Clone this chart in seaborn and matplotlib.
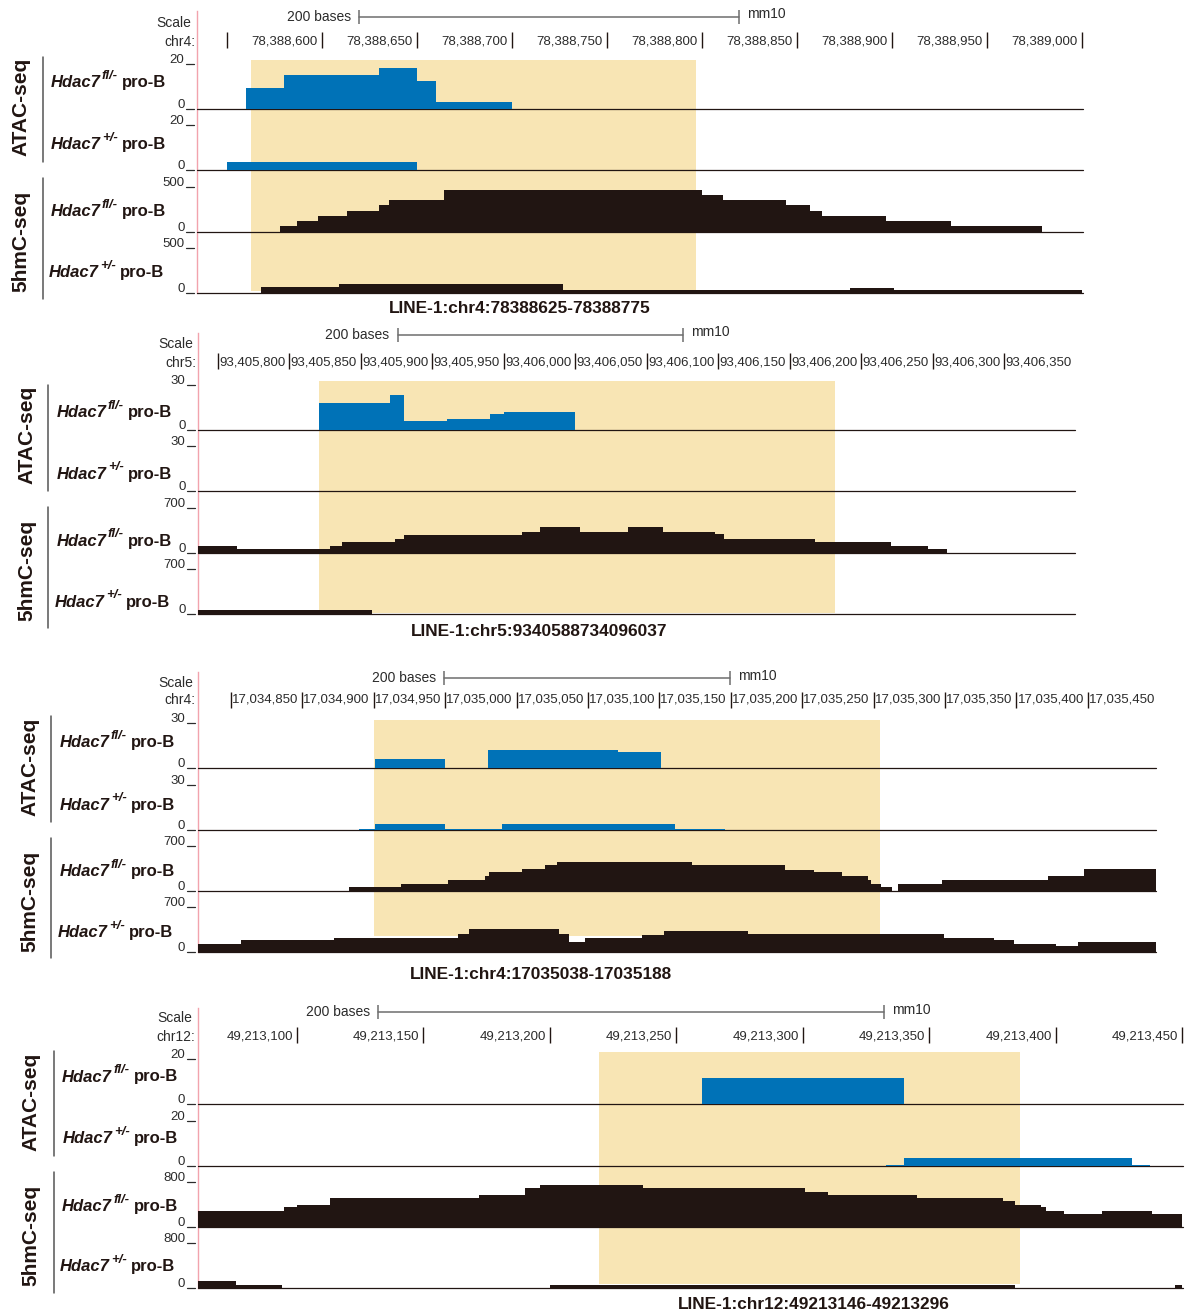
import matplotlib
matplotlib.use("Agg")
import matplotlib.pyplot as plt
from matplotlib import font_manager
from matplotlib.transforms import offset_copy
import numpy as np
import pandas as pd
import seaborn as sns

sns.set_theme(style="white")
plt.rcParams['font.family'] = ['Liberation Sans', 'DejaVu Sans']

_names = {f.name for f in font_manager.fontManager.ttflist}
if 'Liberation Sans Narrow' in _names:
    NARROW, NSIZE, SSIZE = 'Liberation Sans Narrow', 10.5, 10.5
else:
    NARROW, NSIZE, SSIZE = 'Liberation Sans', 9.5, 10
print("narrow font:", NARROW)

W, H = 1190, 1315
BLUE = '#0072b7'
DARK = '#211512'
HILITE = '#f8e5b4'
PINK = '#f2a3ad'
GREY = '#6e6e6e'
TXT = '#2b2b2b'

# ---------------- data (positions are offsets from each panel origin) -------------
region_labels = ["LINE-1:chr4:78388625-78388775",
                 "LINE-1:chr5:9340588734096037",
                 "LINE-1:chr4:17035038-17035188",
                 "LINE-1:chr12:49213146-49213296"]
chroms = ["chr4", "chr5", "chr4", "chr12"]
origins = [78388000, 93405000, 17034000, 49213000]
track_max = [[20, 20, 500, 500], [30, 30, 700, 700],
             [30, 30, 700, 700], [20, 20, 800, 800]]
track_names = ["fl/-", "+/-", "fl/-", "+/-"]

# panel 1  chr4:78,388,534-78,389,000
p1_view = (534.2, 1000.5)
p1_ticks = [550, 600, 650, 700, 750, 800, 850, 900, 950, 1000]
p1_labeled = [600, 650, 700, 750, 800, 850, 900, 950, 1000]
p1_scalebar = 619.5
p1_highlight = (562.6, 797.0)
p1_atac_fl_edges = [560, 580, 630, 650, 660, 700]
p1_atac_fl_vals = [9.3, 15.1, 18.2, 12.4, 3.1]
p1_atac_het_edges = [550, 650]
p1_atac_het_vals = [3.6]
p1_hmc_fl_edges = [578, 587, 598, 613, 630, 635, 664, 800, 811, 844, 857, 863, 897, 931, 979]
p1_hmc_fl_vals = [67, 126, 178, 237, 300, 356, 467, 411, 356, 300, 237, 178, 122, 67]
p1_hmc_het_edges = [568, 609, 727, 878, 901, 1000]
p1_hmc_het_vals = [63, 100, 33, 55, 33]

# panel 2  chr5:93,405,736-93,406,349
p2_view = (736.0, 1349.2)
p2_ticks = [750, 800, 850, 900, 950, 1000, 1050, 1100, 1150, 1200, 1250, 1300, 1350]
p2_labeled = [800, 850, 900, 950, 1000, 1050, 1100, 1150, 1200, 1250, 1300, 1350]
p2_scalebar = 875.6
p2_highlight = (820.8, 1181.6)
p2_atac_fl_edges = [821, 870, 880, 910, 940, 950, 1000]
p2_atac_fl_vals = [18.3, 23.5, 6.1, 7.2, 10.4, 11.7]
p2_atac_het_edges = []
p2_atac_het_vals = []
p2_hmc_fl_edges = [736, 763, 828, 837, 874, 880, 963, 975, 1003, 1037, 1061, 1098, 1104, 1168, 1221, 1247, 1260]
p2_hmc_fl_vals = [111, 61, 111, 177, 228, 289, 339, 415, 339, 411, 339, 294, 228, 172, 106, 61]
p2_hmc_het_edges = [736, 858]
p2_hmc_het_vals = [61]

# panel 3  chr4:17,034,777-17,035,448
p3_view = (776.6, 1447.9)
p3_ticks = [800, 850, 900, 950, 1000, 1050, 1100, 1150, 1200, 1250, 1300, 1350, 1400, 1450]
p3_labeled = [850, 900, 950, 1000, 1050, 1100, 1150, 1200, 1250, 1300, 1350, 1400, 1450]
p3_scalebar = 949.5
p3_highlight = (900.5, 1254.2)
p3_atac_fl_edges = [883, 901, 950, 980, 1071, 1101, 1142]
p3_atac_fl_vals = [0.4, 6.1, 0.4, 11.9, 10.6, 0.4]
p3_atac_het_edges = [890, 901, 950, 990, 1111, 1146]
p3_atac_het_vals = [0.4, 3.9, 0.4, 3.9, 0.4]
p3_hmc_fl_edges = [883, 919, 952, 978, 981, 1004, 1020, 1028, 1123, 1188, 1208, 1228, 1246, 1248,
                   1255, 1263, 1267, 1298, 1372, 1397, 1448]
p3_hmc_fl_vals = [56, 107, 167, 228, 289, 335, 411, 457, 411, 330, 289, 228, 167, 107, 56, 0,
                  107, 167, 228, 335]
p3_hmc_het_edges = [777, 807, 872, 959, 967, 1030, 1037, 1048, 1088, 1103, 1162, 1299, 1334,
                    1348, 1378, 1393, 1448]
p3_hmc_het_vals = [126, 187, 222, 278, 359, 278, 161, 222, 263, 324, 278, 222, 187, 126, 96, 161]

# panel 4  chr12:49,213,061-49,213,450
p4_view = (60.8, 450.2)
p4_ticks = [100, 150, 200, 250, 300, 350, 400, 450]
p4_labeled = [100, 150, 200, 250, 300, 350, 400, 450]
p4_scalebar = 132.1
p4_highlight = (219.3, 385.6)
p4_atac_fl_edges = [260, 340]
p4_atac_fl_vals = [11.9]
p4_atac_het_edges = [333, 340, 430, 437]
p4_atac_het_vals = [0.3, 3.5, 0.3]
p4_hmc_fl_edges = [61, 95, 100, 113, 172, 190, 196, 237, 301, 310, 345, 379, 384, 394, 396, 403, 418, 438, 450]
p4_hmc_fl_vals = [284, 359, 405, 527, 574, 696, 753, 701, 631, 579, 527, 475, 405, 353, 284, 231, 284, 231]
p4_hmc_het_edges = [61, 76, 94, 200, 384, 447, 450]
p4_hmc_het_vals = [127, 57, 0, 57, 0, 57]

data = [
    (p1_view, p1_ticks, p1_labeled, p1_scalebar, p1_highlight,
     [(p1_atac_fl_edges, p1_atac_fl_vals), (p1_atac_het_edges, p1_atac_het_vals),
      (p1_hmc_fl_edges, p1_hmc_fl_vals), (p1_hmc_het_edges, p1_hmc_het_vals)]),
    (p2_view, p2_ticks, p2_labeled, p2_scalebar, p2_highlight,
     [(p2_atac_fl_edges, p2_atac_fl_vals), (p2_atac_het_edges, p2_atac_het_vals),
      (p2_hmc_fl_edges, p2_hmc_fl_vals), (p2_hmc_het_edges, p2_hmc_het_vals)]),
    (p3_view, p3_ticks, p3_labeled, p3_scalebar, p3_highlight,
     [(p3_atac_fl_edges, p3_atac_fl_vals), (p3_atac_het_edges, p3_atac_het_vals),
      (p3_hmc_fl_edges, p3_hmc_fl_vals), (p3_hmc_het_edges, p3_hmc_het_vals)]),
    (p4_view, p4_ticks, p4_labeled, p4_scalebar, p4_highlight,
     [(p4_atac_fl_edges, p4_atac_fl_vals), (p4_atac_het_edges, p4_atac_het_vals),
      (p4_hmc_fl_edges, p4_hmc_fl_vals), (p4_hmc_het_edges, p4_hmc_het_vals)]),
]

# ---------------- layout, in pixels ----------------
layout = [
    dict(x0=197, x1=1083, top=11, base=[109, 170, 232, 293], sb_y=16.7, rt=(32.3, 48.3), rl_y=41.7,
         scale_txt=(191, 23.3), chr_txt=(195, 41.7), hl=(60, 291), reg=(520, 308.3),
         sec=[(21, 106.7), (21, 241)], brk_x=42.8, brk=[(56.7, 161.7), (177.7, 299.3)],
         lab_x=[166.2, 166.2, 166.2, 164.3], lab_y=[81.7, 143.5, 210.7, 271.7]),
    dict(x0=198, x1=1074.5, top=333.3, base=[430, 491, 553.3, 614], sb_y=335, rt=(353, 369.3), rl_y=362.7,
         scale_txt=(193, 344), chr_txt=(196.8, 362.7), hl=(381, 613), reg=(539.6, 631.7),
         sec=[(26.7, 435.3), (27, 570.5)], brk_x=47.8, brk=[(385, 490.7), (506.7, 628.3)],
         lab_x=[172, 172, 172, 170], lab_y=[411.7, 473.3, 540, 601]),
    dict(x0=197.5, x1=1156.3, top=671.7, base=[768.3, 830, 891, 952.3], sb_y=678.3, rt=(691.7, 707.7),
         rl_y=700, scale_txt=(193, 682.7), chr_txt=(195.6, 700), hl=(720, 936), reg=(541.1, 974.3),
         sec=[(30, 767), (30, 901)], brk_x=50.8, brk=[(716, 821.7), (838, 958)],
         lab_x=[175, 175, 175, 172.7], lab_y=[741.7, 804, 870.7, 931.7]),
    dict(x0=197.6, x1=1183, top=1007.7, base=[1104.3, 1166, 1227.3, 1288.3], sb_y=1012.3,
         rt=(1027.3, 1043.3), rl_y=1036.7, scale_txt=(192.2, 1018.3), chr_txt=(194.9, 1036.7),
         hl=(1052.3, 1283.7), reg=(814, 1304.3), sec=[(30.6, 1101.7), (30.6, 1235)], brk_x=53.5,
         brk=[(1051, 1155.7), (1171.7, 1293.3)],
         lab_x=[177.7, 177.7, 177.7, 175], lab_y=[1076, 1137.7, 1205.7, 1265.7]),
]
TRACK_H = 45

fig = plt.figure(figsize=(W / 100, H / 100), dpi=100)
ov = fig.add_axes([0, 0, 1, 1])
ov.set_xlim(0, W)
ov.set_ylim(H, 0)
ov.axis('off')
renderer = fig.canvas.get_renderer()
inv = ov.transData.inverted()


def px_axes(x0, y0, x1, y1):
    return fig.add_axes([x0 / W, 1 - y1 / H, (x1 - x0) / W, (y1 - y0) / H])


def left_of(t, gap):
    bb = t.get_window_extent(renderer)
    return inv.transform((bb.x0, bb.y0))[0] - gap


def track_label(xr, yc, sup):
    yb = yc + 5.5
    t = ov.text(xr, yb, "pro-B", ha='right', va='baseline', fontsize=12,
                fontweight='bold', color=DARK)
    t = ov.text(left_of(t, 4), yb - 8.5, sup, ha='right', va='baseline', fontsize=9.5,
                fontweight='bold', style='italic', color=DARK)
    ov.text(left_of(t, 1.5), yb, "Hdac7", ha='right', va='baseline', fontsize=12,
            fontweight='bold', style='italic', color=DARK)


for pi, (lay, (view, ticks, labeled, sb, hl, tracks)) in enumerate(zip(layout, data)):
    org = origins[pi]
    x0, x1 = lay['x0'], lay['x1']
    bottom = lay['base'][-1]

    # panel backdrop: highlight, ruler, scale bar, pink left edge
    pax = px_axes(x0, lay['top'], x1, bottom)
    pax.set_xlim(*view)
    pax.set_ylim(bottom, lay['top'])
    pax.patch.set_visible(False)
    pax.set_xticks([])
    pax.set_yticks([])
    for s in ['top', 'right', 'bottom']:
        pax.spines[s].set_visible(False)
    pax.spines['left'].set_color(PINK)
    pax.spines['left'].set_linewidth(1.0)

    pax.fill_between([hl[0], hl[1]], lay['hl'][0], lay['hl'][1], color=HILITE, lw=0, zorder=0)

    in_view = [t for t in ticks if t <= view[1]]
    pax.vlines(in_view, lay['rt'][0], lay['rt'][1], color=DARK, lw=1.0, clip_on=False)
    lab_tr = offset_copy(pax.transData, fig=fig, x=-4, y=0, units='dots')
    for t in labeled:
        pax.text(t, lay['rl_y'], f"{org + t:,}", transform=lab_tr, ha='right', va='center',
                 fontsize=NSIZE, family=NARROW, color=TXT, clip_on=False)

    sy = lay['sb_y']
    pax.plot([sb, sb + 200], [sy, sy], color=GREY, lw=1.1, clip_on=False)
    pax.vlines([sb, sb + 200], sy - 7, sy + 7, color=GREY, lw=1.1, clip_on=False)
    pax.text(sb, sy, "200 bases", transform=offset_copy(pax.transData, fig=fig, x=-8, units='dots'),
             ha='right', va='center', fontsize=SSIZE, family=NARROW, color=TXT)
    pax.text(sb + 200, sy - 2.5, "mm10", transform=offset_copy(pax.transData, fig=fig, x=8, units='dots'),
             ha='left', va='center', fontsize=SSIZE, family=NARROW, color=TXT)

    ov.text(*lay['scale_txt'], "Scale", ha='right', va='center', fontsize=SSIZE, family=NARROW, color=TXT)
    ov.text(*lay['chr_txt'], chroms[pi] + ":", ha='right', va='center', fontsize=SSIZE,
            family=NARROW, color=TXT)

    # signal tracks
    for ti, ((edges, vals), ymax, yb) in enumerate(zip(tracks, track_max[pi], lay['base'])):
        ax = px_axes(x0, yb - TRACK_H, x1, yb)
        color = BLUE if ti < 2 else DARK
        if len(vals):
            e = [float(v) for v in edges]
            df = pd.DataFrame({'pos': [(a + b) / 2 for a, b in zip(e[:-1], e[1:])],
                               'signal': [float(v) for v in vals]})
            sns.histplot(data=df, x='pos', weights='signal', bins=e, element='step', fill=True,
                         color=color, alpha=1, linewidth=0, ax=ax)
        ax.axhline(0, color=DARK, lw=0.9, clip_on=False, zorder=0.5)
        ax.set_xlim(*view)
        ax.set_ylim(0, ymax)
        ax.axis('off')

        # y scale text
        for lvl, txt in [(yb - TRACK_H, str(ymax)), (yb, "0")]:
            ov.text(x0 - 12.5, lvl - 1, txt, ha='right', va='baseline', fontsize=9.5, color=TXT)
            ov.plot([x0 - 11, x0 - 3], [lvl, lvl], color=TXT, lw=0.9)

        track_label(lay['lab_x'][ti], lay['lab_y'][ti], track_names[ti])

    # assay labels and brackets
    for (cx, cy), (b0, b1), name in zip(lay['sec'], lay['brk'], ["ATAC-seq", "5hmC-seq"]):
        ov.text(cx, cy, name, rotation=90, ha='center', va='center', fontsize=15,
                fontweight='bold', color=DARK)
        ov.plot([lay['brk_x'], lay['brk_x']], [b0, b1], color='#555555', lw=1.1)

    ov.text(*lay['reg'], region_labels[pi], ha='center', va='center', fontsize=12.4,
            fontweight='bold', color=DARK)

fig.savefig("out.png", dpi=100)
